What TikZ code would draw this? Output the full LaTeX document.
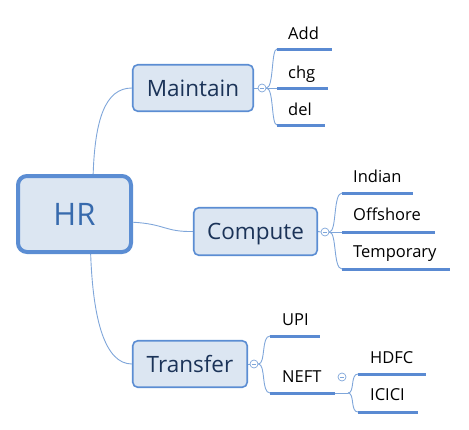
\documentclass[tikz,border=0pt]{standalone}
\usepackage{fontspec}
\setmainfont{Open Sans}
\definecolor{boxfill}{HTML}{DCE6F2}
\definecolor{boxline}{HTML}{5B8DD3}
\definecolor{connc}{HTML}{7FA6DA}
\definecolor{ulc}{HTML}{5A8AD2}
\definecolor{navy}{HTML}{1B3358}
\definecolor{hrtext}{HTML}{376AAD}
\begin{document}
\begin{tikzpicture}[x=1pt,y=-1pt,
  root/.style={draw=boxline, line width=4pt, fill=boxfill, rounded corners=9pt,
    minimum width=113pt, minimum height=76pt, text=hrtext, inner sep=0pt, text depth=0pt,
    font=\fontsize{31}{31}\selectfont},
  topic/.style={draw=boxline, line width=1.6pt, fill=boxfill, rounded corners=5pt,
    text=navy, inner sep=0pt, text depth=0pt, font=\fontsize{22.5}{23}\selectfont},
  leaf/.style={anchor=base west, inner sep=0pt, text=black, font=\fontsize{16.5}{17}\selectfont},
  ul/.style={draw=ulc, line width=3pt},
  conn/.style={draw=connc, line width=0.9pt},
  fold/.style={circle, draw=connc, fill=white, line width=0.7pt, minimum size=8pt, inner sep=0pt,
    path picture={\draw[connc, line width=0.6pt]
      ([xshift=-2.2pt]path picture bounding box.center) -- ([xshift=2.2pt]path picture bounding box.center);}}
]
\useasboundingbox (0,0) rectangle (469,429);

% main nodes
\node[root] (HR) at (74.5,214) {HR};
\node[topic, minimum width=120.5pt, minimum height=46.5pt] (M) at (193,88) {Maintain};
\node[topic, minimum width=123.5pt, minimum height=47.5pt] (C) at (255.5,231.5) {Compute};
\node[topic, minimum width=114.5pt, minimum height=46.5pt] (T) at (190,364) {Transfer};

% connectors from root
\draw[conn] (HR.65) .. controls (95,120) and (105,88) .. (M.west);
\draw[conn] (HR.-8) .. controls (165,224) and (165,232) .. (C.west);
\draw[conn] (HR.-68) .. controls (93,320) and (105,364) .. (T.west);

% Maintain branch
\coordinate (addS) at (277,49); \coordinate (addE) at (332,49);
\coordinate (chgS) at (277,88); \coordinate (chgE) at (328,88);
\coordinate (delS) at (277,125); \coordinate (delE) at (325,125);
\node[fold] (fM) at (262,88) {};
\draw[conn] (M.east) -- (fM.west);
\draw[conn] (fM.east) -- (chgS);
\draw[conn] (fM.east) .. controls (274,88) and (271,49) .. (addS);
\draw[conn] (fM.east) .. controls (274,88) and (271,125) .. (delS);
\draw[ul] (addS) -- (addE);
\draw[ul] (chgS) -- (chgE);
\draw[ul] (delS) -- (delE);
\node[leaf] (add) at (288,39) {Add};
\node[leaf] (chg) at (288,78) {chg};
\node[leaf] (del) at (288,115) {del};

% Compute branch
\coordinate (indS) at (342,193); \coordinate (indE) at (413,193);
\coordinate (offS) at (342,232); \coordinate (offE) at (435,232);
\coordinate (tmpS) at (342,269); \coordinate (tmpE) at (450,269);
\node[fold] (fC) at (325,232) {};
\draw[conn] (C.east) -- (fC.west);
\draw[conn] (fC.east) -- (offS);
\draw[conn] (fC.east) .. controls (337,232) and (333,193) .. (indS);
\draw[conn] (fC.east) .. controls (337,232) and (333,269) .. (tmpS);
\draw[ul] (indS) -- (indE);
\draw[ul] (offS) -- (offE);
\draw[ul] (tmpS) -- (tmpE);
\node[leaf] (ind) at (353,182) {Indian};
\node[leaf] (off) at (353,220) {Offshore};
\node[leaf] (tmp) at (353,257) {Temporary};

% Transfer branch
\coordinate (upiS) at (270,336); \coordinate (upiE) at (320,336);
\coordinate (neftS) at (270,393); \coordinate (neftE) at (335,393);
\node[fold] (fT) at (254,364) {};
\draw[conn] (T.east) -- (fT.west);
\draw[conn] (fT.east) .. controls (266,364) and (261,336) .. (upiS);
\draw[conn] (fT.east) .. controls (266,364) and (261,393) .. (neftS);
\draw[ul] (upiS) -- (upiE);
\draw[ul] (neftS) -- (neftE);
\node[leaf] (upi) at (282,325) {UPI};
\node[leaf] (neft) at (282,382) {NEFT};

% NEFT sub-branch
\coordinate (jN) at (348,393);
\coordinate (hdS) at (358,374); \coordinate (hdE) at (426,374);
\coordinate (icS) at (358,412); \coordinate (icE) at (418,412);
\node[fold] (fN) at (342,377) {};
\draw[conn] (neftE) -- (jN);
\draw[conn] (jN) .. controls (355,393) and (350,374) .. (hdS);
\draw[conn] (jN) .. controls (355,393) and (350,412) .. (icS);
\draw[ul] (hdS) -- (hdE);
\draw[ul] (icS) -- (icE);
\node[leaf] (hdfc) at (370,363) {HDFC};
\node[leaf] (icici) at (370,400) {ICICI};
\end{tikzpicture}
\end{document}
